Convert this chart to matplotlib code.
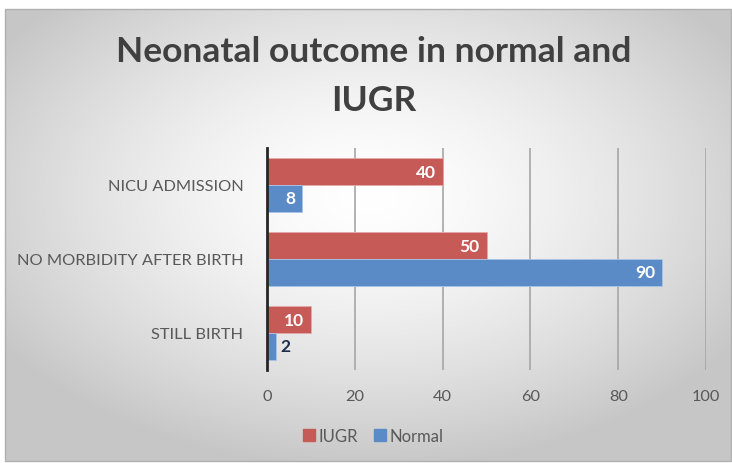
import numpy as np
import matplotlib
matplotlib.use("Agg")
import matplotlib.pyplot as plt
from matplotlib.patches import Rectangle
from matplotlib.lines import Line2D

categories = ["STILL BIRTH", "NO MORBIDITY AFTER BIRTH", "NICU ADMISSION"]
iugr = [10, 50, 40]
normal = [2, 90, 8]
xticks = [0, 20, 40, 60, 80, 100]

plt.rcParams['font.family'] = ['Lato', 'DejaVu Sans']

W, H = 732, 464
fig = plt.figure(figsize=(W/100, H/100), dpi=100)

# background frame with radial gradient
bg = fig.add_axes([0, 0, 1, 1], zorder=-10)
bg.set_xlim(0, W); bg.set_ylim(H, 0); bg.axis('off')
x0, y0, x1, y1 = 5, 10, 731, 462
yy, xx = np.mgrid[y0:y1, x0:x1]
cx, cy = (x0 + x1) / 2, (y0 + y1) / 2 - 40
r = np.sqrt(((xx - cx) / ((x1 - x0) / 2)) ** 2 + ((yy - cy) / ((y1 - y0) / 2)) ** 2)
r = np.clip(r / 1.2, 0, 1)
val = 1.0 - 0.22 * r ** 1.5
img = np.dstack([val, val, val])
bg.imshow(img, extent=(x0, x1, y1, y0), aspect='auto', interpolation='bilinear')
bg.add_patch(Rectangle((x0, y0), x1 - x0, y1 - y0, fill=False, ec='#B0B0B0', lw=1))

ax = fig.add_axes([267/W, 1 - 371/H, (706 - 267)/W, (371 - 149)/H])
ax.patch.set_alpha(0)

y = np.arange(len(categories))
h = 0.36
c_iugr = '#C55A57'
c_norm = '#5B8BC6'
b1 = ax.barh(y + h/2, iugr, height=h, color=c_iugr, edgecolor='#E8A8A6', lw=0.6, zorder=3)
b2 = ax.barh(y - h/2, normal, height=h, color=c_norm, edgecolor='#A8C4E6', lw=0.6, zorder=3)

for bars, vals in ((b1, iugr), (b2, normal)):
    for rect, v in zip(bars, vals):
        yc = rect.get_y() + rect.get_height() / 2
        if v >= 5:
            ax.text(v - 1.6, yc, str(v), ha='right', va='center', color='white',
                    fontsize=12.5, fontweight='bold', zorder=4)
        else:
            ax.text(v + 1.0, yc, str(v), ha='left', va='center', color='#1F2A4A',
                    fontsize=12.5, fontweight='bold', zorder=4)

ax.set_xlim(0, 100)
ax.set_ylim(-0.5, 2.5)
ax.set_xticks(xticks)
ax.set_yticks(y)
ax.set_yticklabels(categories)
ax.xaxis.grid(True, color='#A6A6A6', lw=1.2, zorder=0)
ax.tick_params(axis='both', length=0, labelsize=11.8, colors='#595959')
ax.tick_params(axis='x', pad=14)
ax.tick_params(axis='y', pad=17)
for s in ['top', 'right', 'bottom']:
    ax.spines[s].set_visible(False)
ax.spines['left'].set_color('#262626')
ax.spines['left'].set_linewidth(2)
ax.spines['left'].set_zorder(5)

fig.text(374/W, 1 - 52/H, "Neonatal outcome in normal and", ha='center', va='center',
         fontsize=25.5, fontweight='bold', color='#404040')
fig.text(374/W, 1 - 101/H, "IUGR", ha='center', va='center',
         fontsize=25.5, fontweight='bold', color='#404040')

handles = [Line2D([], [], marker='s', ls='', color=c_iugr, markersize=8),
           Line2D([], [], marker='s', ls='', color=c_norm, markersize=8)]
leg = fig.legend(handles, ['IUGR', 'Normal'], loc='center', bbox_to_anchor=(372/W, 1 - 437/H),
                 ncol=2, frameon=False, fontsize=12, handletextpad=0.1, columnspacing=0.8,
                 handlelength=1.0)
for t in leg.get_texts():
    t.set_color('#595959')

fig.savefig('out.png', dpi=100)
